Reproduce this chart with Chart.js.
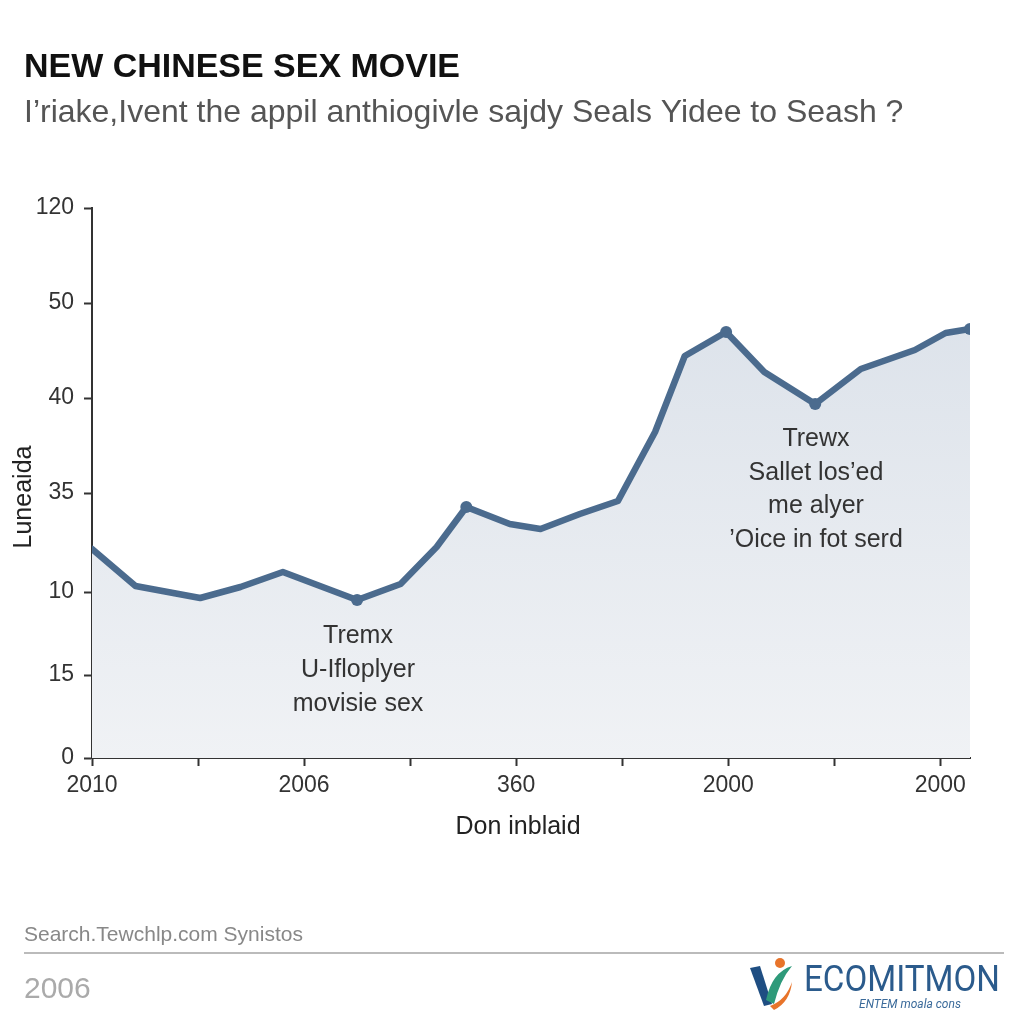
<!DOCTYPE html>
<html>
<head>
<meta charset="utf-8">
<script src="https://cdn.jsdelivr.net/npm/chart.js@4.4.1/dist/chart.umd.min.js"></script>
<style>
  html, body { margin: 0; padding: 0; background: #fff; }
  #wrap { width: 1024px; height: 1024px; position: relative; }
</style>
</head>
<body>
<div id="wrap"><canvas id="chart" width="1024" height="1024"></canvas></div>
<script>
// x positions (in tick steps) and values (in the chart's own axis units)
const xValues = [0, 0.41, 1.02, 1.40, 1.80, 2.15, 2.50, 2.91, 3.25, 3.53, 3.94, 4.23, 4.60, 4.96, 5.31, 5.59, 5.98, 6.34, 6.82, 7.25, 7.76, 8.05, 8.28];
const yValues = [41.8, 34.4, 32.0, 34.2, 37.2, 34.4, 31.6, 34.8, 42.2, 50.2, 46.8, 45.8, 48.8, 51.4, 65.2, 80.4, 85.2, 77.2, 70.8, 77.8, 81.6, 85.0, 85.8];
const markerIdx = [6, 9, 16, 18, 22];

const xTickLabels = ['2010', '', '2006', '', '360', '', '2000', '', '2000'];
const yTickPos = [0, 16.6, 33.2, 53, 72, 91, 110];
const yTickLabels = ['0', '15', '10', '35', '40', '50', '120'];

const titleText = 'NEW CHINESE SEX MOVIE';
const subtitleText = 'I\u2019riake,Ivent the appil anthiogivle sajdy Seals Yidee to Seash ?';
const yTitle = 'Luneaida';
const xTitle = 'Don inblaid';
const noteLeft = ['Tremx', 'U-Ifloplyer', 'movisie sex'];
const noteRight = ['Trewx', 'Sallet los\u2019ed', 'me alyer', '\u2019Oice in fot serd'];
const sourceText = 'Search.Tewchlp.com Synistos';
const footYear = '2006';

const lineColor = '#4b6b8e';
const sans = '"Liberation Sans", Arial, sans-serif';

const decorPlugin = {
  id: 'decor',
  afterDraw(chart) {
    const ctx = chart.ctx;
    ctx.save();
    ctx.textBaseline = 'alphabetic';
    ctx.textAlign = 'left';
    // title & subtitle
    ctx.fillStyle = '#111';
    ctx.font = 'bold 34px ' + sans;
    ctx.fillText(titleText, 24, 77, 436);
    ctx.fillStyle = '#555';
    ctx.font = '32px ' + sans;
    ctx.fillText(subtitleText, 24, 122, 882);

    // axis titles
    ctx.fillStyle = '#222';
    ctx.font = '25px ' + sans;
    ctx.save();
    ctx.translate(31, 497);
    ctx.rotate(-Math.PI / 2);
    ctx.textAlign = 'center';
    ctx.fillText(yTitle, 0, 0);
    ctx.restore();
    ctx.textAlign = 'center';
    ctx.fillText(xTitle, 518, 834);

    // notes
    ctx.fillStyle = '#333';
    ctx.font = '25px ' + sans;
    noteLeft.forEach((t, i) => ctx.fillText(t, 358, 643 + i * 34));
    noteRight.forEach((t, i) => ctx.fillText(t, 816, 446 + i * 33.5));

    // footer
    ctx.textAlign = 'left';
    ctx.fillStyle = '#888';
    ctx.font = '21px ' + sans;
    ctx.fillText(sourceText, 24, 941, 300);
    ctx.fillStyle = '#bbb';
    ctx.fillRect(24, 952, 980, 2);
    ctx.fillStyle = '#aaa';
    ctx.font = '30px ' + sans;
    ctx.fillText(footYear, 24, 998);

    // logo
    ctx.fillStyle = '#1f4e82';
    ctx.beginPath();
    ctx.moveTo(750, 968); ctx.lineTo(760, 966); ctx.lineTo(772, 1004); ctx.lineTo(764, 1006);
    ctx.closePath(); ctx.fill();
    ctx.fillStyle = '#2e9a7a';
    ctx.beginPath();
    ctx.moveTo(766, 1000); ctx.quadraticCurveTo(772, 972, 792, 966);
    ctx.quadraticCurveTo(780, 980, 774, 1004); ctx.closePath(); ctx.fill();
    ctx.fillStyle = '#e8742a';
    ctx.beginPath();
    ctx.arc(780, 963, 5, 0, Math.PI * 2); ctx.fill();
    ctx.beginPath();
    ctx.moveTo(770, 1006); ctx.quadraticCurveTo(786, 1000, 792, 982);
    ctx.quadraticCurveTo(790, 1002, 774, 1010); ctx.closePath(); ctx.fill();
    ctx.fillStyle = '#2b5b8c';
    ctx.font = '36px Roboto';
    ctx.fillText('ECOMITMON', 804, 991, 196);
    ctx.font = 'italic 12px Roboto';
    ctx.fillStyle = '#3a6a9a';
    ctx.textAlign = 'center';
    ctx.fillText('ENTEM moala cons', 910, 1008);
    ctx.restore();
  }
};

const ctxEl = document.getElementById('chart');
new Chart(ctxEl, {
  type: 'line',
  data: {
    datasets: [{
      data: xValues.map((x, i) => ({ x: x, y: yValues[i] })),
      borderColor: lineColor,
      borderWidth: 6.5,
      borderJoinStyle: 'round',
      borderCapStyle: 'round',
      tension: 0,
      fill: 'origin',
      backgroundColor: (c) => {
        const area = c.chart.chartArea;
        if (!area) return '#e3e8ef';
        const g = c.chart.ctx.createLinearGradient(0, area.top, 0, area.bottom);
        g.addColorStop(0, '#d8dfe8');
        g.addColorStop(1, '#f0f2f5');
        return g;
      },
      pointRadius: xValues.map((_, i) => markerIdx.includes(i) ? 6 : 0),
      pointBackgroundColor: lineColor,
      pointBorderWidth: 0
    }]
  },
  options: {
    responsive: false,
    animation: false,
    layout: { padding: { left: 0, right: 54, top: 208, bottom: 0 } },
    plugins: { legend: { display: false }, tooltip: { enabled: false } },
    scales: {
      x: {
        type: 'linear',
        min: 0,
        max: 8.28,
        afterFit(s) { s.height = 266; },
        afterBuildTicks(s) { s.ticks = xTickLabels.map((_, i) => ({ value: i })); },
        grid: { drawOnChartArea: false, drawTicks: true, tickLength: 8, color: '#333', tickWidth: 2 },
        border: { display: true, color: '#333', width: 2 },
        ticks: {
          padding: 6,
          autoSkip: false,
          maxRotation: 0,
          color: '#333',
          font: { family: sans, size: 23 },
          callback: (v) => xTickLabels[Math.round(v)] || ''
        }
      },
      y: {
        type: 'linear',
        min: 0,
        max: 110,
        afterFit(s) { s.width = 92; },
        afterBuildTicks(s) { s.ticks = yTickPos.map(v => ({ value: v })); },
        grid: { drawOnChartArea: false, drawTicks: true, tickLength: 8, color: '#333', tickWidth: 2 },
        border: { display: true, color: '#333', width: 2 },
        ticks: {
          padding: 10,
          color: '#333',
          font: { family: sans, size: 23 },
          callback: (v) => yTickLabels[yTickPos.indexOf(v)] ?? ''
        }
      }
    }
  },
  plugins: [decorPlugin]
});
</script>
</body>
</html>
